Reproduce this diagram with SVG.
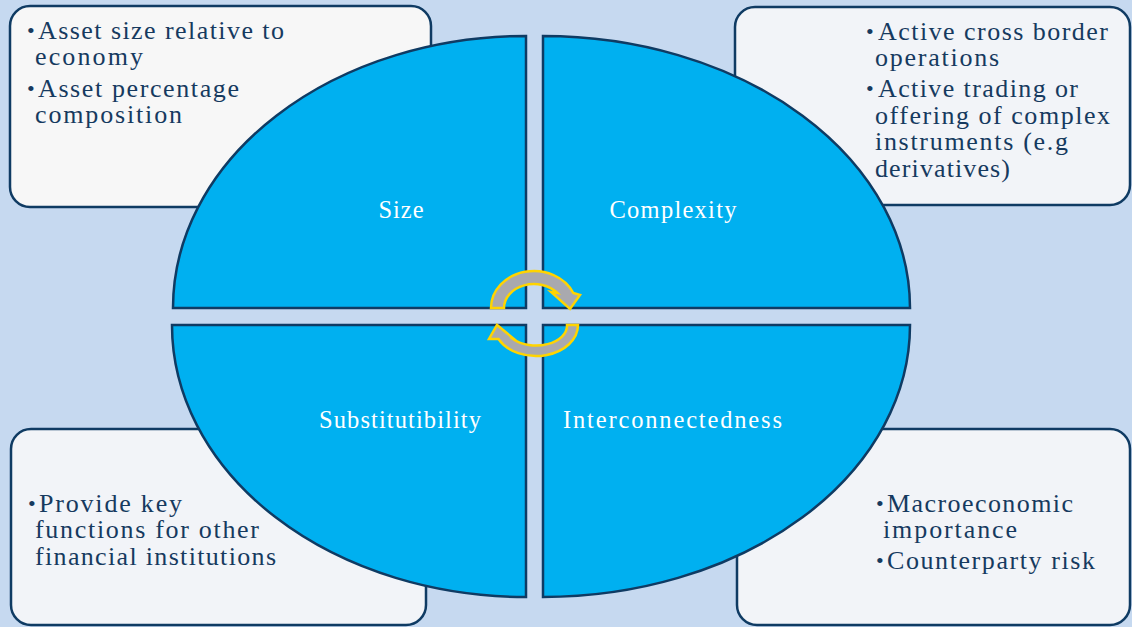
<svg xmlns="http://www.w3.org/2000/svg" width="1132" height="627" viewBox="0 0 1132 627">
<style>
.box{fill:#F2F4F8;stroke:#0F3B63;stroke-width:2.5}
.quad{fill:#00B0F0;stroke:#0F3B63;stroke-width:2.5;stroke-linejoin:miter}
.t{font-family:"Liberation Serif","Times New Roman",serif;font-size:26px;fill:#163A5F}
.b{font-family:"Liberation Serif","Times New Roman",serif;font-size:22px;fill:#163A5F}
.lbl{font-family:"Liberation Serif","Times New Roman",serif;font-size:24.5px;fill:#FFFFFF;text-anchor:middle}
.arr{fill:#A9A9AE;stroke:#FFD400;stroke-width:2.5;stroke-linejoin:miter}
</style>
<rect x="0" y="0" width="1132" height="627" fill="#C6D9F0"/>
<g id="box-size">
<rect class="box" x="10" y="6" width="421" height="201" rx="20" style="fill:#F7F7F7"/>
<text class="b" x="27" y="38">•</text>
<text class="t" x="38" y="39" textLength="246" lengthAdjust="spacing">Asset size relative to</text>
<text class="t" x="35" y="65" textLength="108" lengthAdjust="spacing">economy</text>
<text class="b" x="27" y="96">•</text>
<text class="t" x="38" y="97" textLength="201" lengthAdjust="spacing">Asset percentage</text>
<text class="t" x="35" y="123" textLength="147" lengthAdjust="spacing">composition</text>
</g>
<g id="box-complexity">
<rect class="box" x="735" y="7" width="395" height="198" rx="20"/>
<text class="b" x="866" y="39">•</text>
<text class="t" x="878" y="40" textLength="230" lengthAdjust="spacing">Active cross border</text>
<text class="t" x="875" y="66" textLength="124" lengthAdjust="spacing">operations</text>
<text class="b" x="866" y="96">•</text>
<text class="t" x="878" y="97" textLength="200" lengthAdjust="spacing">Active trading or</text>
<text class="t" x="875" y="124" textLength="235" lengthAdjust="spacing">offering of complex</text>
<text class="t" x="875" y="150" textLength="193" lengthAdjust="spacing">instruments (e.g</text>
<text class="t" x="875" y="177" textLength="135" lengthAdjust="spacing">derivatives)</text>
</g>
<g id="box-substitutibility">
<rect class="box" x="11" y="429" width="415" height="196" rx="20"/>
<text class="b" x="28" y="511">•</text>
<text class="t" x="39" y="512" textLength="143" lengthAdjust="spacing">Provide key</text>
<text class="t" x="35" y="538" textLength="224" lengthAdjust="spacing">functions for other</text>
<text class="t" x="35" y="565" textLength="241" lengthAdjust="spacing">financial institutions</text>
</g>
<g id="box-interconnectedness">
<rect class="box" x="737" y="429" width="393" height="196" rx="20"/>
<text class="b" x="876" y="511">•</text>
<text class="t" x="887" y="512" textLength="186" lengthAdjust="spacing">Macroeconomic</text>
<text class="t" x="883" y="538" textLength="134" lengthAdjust="spacing">importance</text>
<text class="b" x="876" y="568">•</text>
<text class="t" x="887" y="569" textLength="208" lengthAdjust="spacing">Counterparty risk</text>
</g>
<g id="quad-size">
<path class="quad" d="M526,308 L173,308 A353,272 0 0 1 526,36 Z"/>
<text class="lbl" x="401" y="218" textLength="45" lengthAdjust="spacing">Size</text>
</g>
<g id="quad-complexity">
<path class="quad" d="M543,308 L543,36 A367,272 0 0 1 910,308 Z"/>
<text class="lbl" x="673" y="218" textLength="127" lengthAdjust="spacing">Complexity</text>
</g>
<g id="quad-substitutibility">
<path class="quad" d="M526,325 L526,597 A354,272 0 0 1 172,325 Z"/>
<text class="lbl" x="400" y="428" textLength="162" lengthAdjust="spacing">Substitutibility</text>
</g>
<g id="quad-interconnectedness">
<path class="quad" d="M543,325 L910,325 A367,272 0 0 1 543,597 Z"/>
<text class="lbl" x="672.5" y="428" textLength="219" lengthAdjust="spacing">Interconnectedness</text>
</g>
<g id="connectors">
<path class="arr" d="M491,308 A43,37 0 0 1 573.3,293 L580,295 L570,309 L551,292 L557.4,293 A30,24 0 0 0 504,308 Z"/>
<path class="arr" d="M578,325 A42,31 0 0 1 498.5,339 L489,339 L497,325 L514,339 L513,339 A31,20 0 0 0 567,325 Z"/>
</g>
</svg>
